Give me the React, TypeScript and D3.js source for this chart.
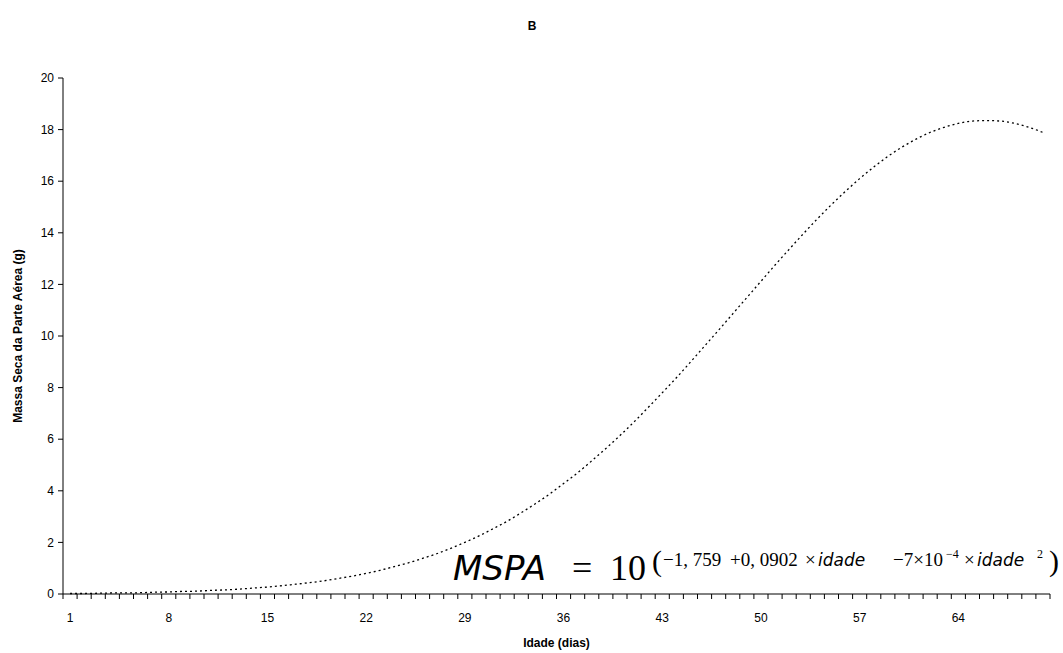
import React from 'react';
import * as d3 from 'd3';

// idade (dias) 1..70
const days: number[] = [
  1, 2, 3, 4, 5, 6, 7, 8, 9, 10, 11, 12, 13, 14, 15, 16, 17, 18, 19, 20,
  21, 22, 23, 24, 25, 26, 27, 28, 29, 30, 31, 32, 33, 34, 35, 36, 37, 38, 39, 40,
  41, 42, 43, 44, 45, 46, 47, 48, 49, 50, 51, 52, 53, 54, 55, 56, 57, 58, 59, 60,
  61, 62, 63, 64, 65, 66, 67, 68, 69, 70,
];

// massa seca da parte aerea (g)
const mspa: number[] = [
  0.02, 0.02, 0.03, 0.04, 0.04, 0.05, 0.07, 0.08, 0.10, 0.11,
  0.14, 0.16, 0.19, 0.23, 0.27, 0.32, 0.38, 0.44, 0.51, 0.60,
  0.69, 0.80, 0.92, 1.06, 1.21, 1.38, 1.56, 1.77, 2.00, 2.25,
  2.53, 2.82, 3.15, 3.50, 3.87, 4.28, 4.70, 5.16, 5.64, 6.14,
  6.67, 7.23, 7.80, 8.38, 8.99, 9.61, 10.23, 10.86, 11.49, 12.12,
  12.75, 13.36, 13.96, 14.54, 15.09, 15.61, 16.10, 16.55, 16.96, 17.32,
  17.63, 17.89, 18.09, 18.24, 18.33, 18.35, 18.33, 18.24, 18.09, 17.89,
];

const yTicks: number[] = [0, 2, 4, 6, 8, 10, 12, 14, 16, 18, 20];
const xLabelDays: number[] = [1, 8, 15, 22, 29, 36, 43, 50, 57, 64];

const width = 1063;
const height = 653;
const margin = { top: 78, right: 13, bottom: 59, left: 63 };

const sans = 'Arial, "Liberation Sans", Helvetica, sans-serif';
const serif = '"Times New Roman", "Liberation Serif", serif';
const italicSans = '"DejaVu Sans", Verdana, sans-serif';

export default function App() {
  const w = width - margin.left - margin.right;
  const h = height - margin.top - margin.bottom;

  const x = d3.scaleBand<number>().domain(days).range([0, w]).padding(0);
  const y = d3.scaleLinear().domain([0, 20]).range([h, 0]);

  const line = d3
    .line<number>()
    .x((d, i) => (x(days[i]) as number) + x.bandwidth() / 2)
    .y((d) => y(d))
    .curve(d3.curveMonotoneX);

  const boundaries = days.map((d) => x(d) as number).concat([w]);

  // equation layout
  const eqBase = 580;
  const expBase = 566;

  return (
    <svg width={width} height={height} style={{ position: 'absolute', left: 0, top: 0, background: '#fff' }}>
      <text x={532} y={30} textAnchor="middle" fontFamily={sans} fontWeight="bold" fontSize={12}>
        B
      </text>

      <g transform={`translate(${margin.left},${margin.top})`}>
        {/* y axis */}
        <line x1={0} x2={0} y1={0} y2={h} stroke="#000" strokeWidth={1} />
        {yTicks.map((t) => (
          <g key={t} transform={`translate(0,${y(t)})`}>
            <line x1={-5} x2={0} stroke="#000" />
            <text x={-9} dy="0.35em" textAnchor="end" fontFamily={sans} fontSize={12}>
              {t}
            </text>
          </g>
        ))}

        {/* x axis */}
        <line x1={0} x2={w} y1={h} y2={h} stroke="#000" strokeWidth={1} />
        {boundaries.map((b, i) => (
          <line key={i} x1={b} x2={b} y1={h} y2={h + 5} stroke="#000" />
        ))}
        {xLabelDays.map((d) => (
          <text
            key={d}
            x={(x(d) as number) + x.bandwidth() / 2}
            y={h + 28}
            textAnchor="middle"
            fontFamily={sans}
            fontSize={12}
          >
            {d}
          </text>
        ))}

        <path d={line(mspa) || ''} fill="none" stroke="#000" strokeWidth={1.3} strokeDasharray="2,3" />
      </g>

      <text
        transform={`translate(22,${margin.top + h / 2}) rotate(-90)`}
        textAnchor="middle"
        fontFamily={sans}
        fontWeight="bold"
        fontSize={12}
      >
        Massa Seca da Parte Aérea (g)
      </text>
      <text x={margin.left + w / 2} y={647} textAnchor="middle" fontFamily={sans} fontWeight="bold" fontSize={12}>
        Idade (dias)
      </text>

      {/* equation */}
      <text x={453} y={eqBase} fontFamily={italicSans} fontStyle="italic" fontSize={34}>
        MSPA
      </text>
      <text y={eqBase} fontFamily={serif} fontSize={36}>
        <tspan x={572}>=</tspan>
        <tspan x={610}>10</tspan>
      </text>
      <text y={eqBase - 9} fontFamily={serif} fontSize={30}>
        <tspan x={652}>(</tspan>
        <tspan x={1049}>)</tspan>
      </text>
      <text y={expBase} fontFamily={serif} fontSize={19}>
        <tspan x={663}>−1, 759</tspan>
        <tspan x={730}>+0, 0902</tspan>
        <tspan x={805}>×</tspan>
        <tspan x={818} fontFamily={italicSans} fontStyle="italic" fontSize={17}>idade</tspan>
        <tspan x={893}>−7×10</tspan>
        <tspan x={946} fontSize={12} dy={-8}>−4</tspan>
        <tspan x={964} dy={8}>×</tspan>
        <tspan x={977} fontFamily={italicSans} fontStyle="italic" fontSize={17}>idade</tspan>
        <tspan x={1037} fontSize={12} dy={-8}>2</tspan>
      </text>
    </svg>
  );
}
